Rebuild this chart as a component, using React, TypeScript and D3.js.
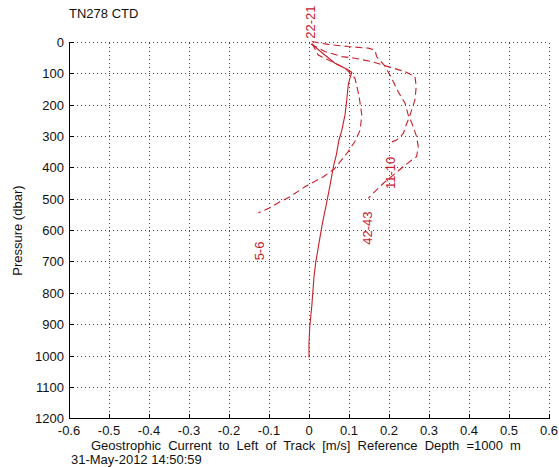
import React from "react";
import * as d3 from "d3";

const xTicks = [-0.6, -0.5, -0.4, -0.3, -0.2, -0.1, 0, 0.1, 0.2, 0.3, 0.4, 0.5, 0.6];
const xTickLabels = ["-0.6", "-0.5", "-0.4", "-0.3", "-0.2", "-0.1", "0", "0.1", "0.2", "0.3", "0.4", "0.5", "0.6"];
const yTicks = [0, 100, 200, 300, 400, 500, 600, 700, 800, 900, 1000, 1100, 1200];

// Solid profile (22-21): [velocity m/s, pressure dbar]
const series2221: [number, number][] = [
  [0.007, 5], [0.035, 35], [0.065, 66], [0.095, 85], [0.107, 95], [0.102, 115], [0.098, 136],
  [0.094, 189], [0.09, 231], [0.082, 280], [0.075, 311], [0.068, 360], [0.061, 396], [0.052, 460],
  [0.042, 524], [0.033, 580], [0.025, 640], [0.017, 700], [0.0125, 747], [0.01, 790], [0.007, 840],
  [0.002, 906], [0.0, 960], [0.0, 1005],
];
// Dashed profile 5-6
const series56: [number, number][] = [
  [0.008, 3], [0.023, 40], [0.057, 61], [0.09, 82], [0.115, 114], [0.125, 170], [0.132, 231],
  [0.128, 279], [0.115, 315], [0.098, 348], [0.063, 404], [0.036, 428], [-0.01, 460],
  [-0.0475, 492], [-0.0725, 508], [-0.1, 529], [-0.127, 543],
];
// Dashed profile 11-10
const series1110: [number, number][] = [
  [0.005, 5], [0.04, 29], [0.082, 45], [0.115, 50], [0.157, 61], [0.198, 77], [0.24, 93],
  [0.265, 109], [0.268, 140], [0.265, 183], [0.251, 237], [0.244, 259], [0.236, 290],
  [0.219, 311], [0.198, 322],
];
// Dashed profile 42-43
const series4243: [number, number][] = [
  [0.007, -3], [0.048, 6], [0.098, 13], [0.148, 18], [0.165, 24], [0.169, 45], [0.19, 75],
  [0.211, 125], [0.223, 157], [0.24, 194], [0.248, 231], [0.257, 257], [0.269, 300],
  [0.273, 332], [0.269, 364], [0.257, 375], [0.236, 396], [0.186, 449], [0.169, 470],
  [0.148, 497],
];

const labelNames = ["22-21", "11-10", "42-43", "5-6"];
const labelPos: [number, number][] = [[0.0025, -65], [0.2025, 416], [0.146, 592], [-0.124, 665]];

const W = 559;
const H = 467;
const RED = "#c8202a";
const FONT = "Arial, 'Liberation Sans', Helvetica, sans-serif";

export default function App() {
  const x = d3.scaleLinear().domain([-0.6, 0.6]).range([69, 549]);
  const y = d3.scaleLinear().domain([0, 1200]).range([42.5, 418.7]);
  const line = d3
    .line<[number, number]>()
    .x((d) => x(d[0]))
    .y((d) => y(d[1]));

  const x0 = x.range()[0];
  const x1 = x.range()[1];
  const y0 = y.range()[0];
  const y1 = y.range()[1];

  return (
    <svg
      width={W}
      height={H}
      style={{ position: "absolute", left: 0, top: 0, background: "#fff" }}
      fontFamily={FONT}
    >
      <rect x={0} y={0} width={W} height={H} fill="#fff" />
      {/* grid */}
      {xTicks.map((t, i) => (
        <line key={"gx" + i} x1={x(t)} x2={x(t)} y1={y0} y2={y1} stroke="#444" strokeWidth={1}
          strokeDasharray="1 3" shapeRendering="crispEdges" />
      ))}
      {yTicks.map((t, i) => (
        <line key={"gy" + i} x1={x0} x2={x1} y1={y(t)} y2={y(t)} stroke="#444" strokeWidth={1}
          strokeDasharray="1 3" shapeRendering="crispEdges" />
      ))}
      {/* axes */}
      <line x1={x0} x2={x0} y1={y0} y2={y1} stroke="#000" shapeRendering="crispEdges" />
      <line x1={x0} x2={x1} y1={y1} y2={y1} stroke="#000" shapeRendering="crispEdges" />
      {xTicks.map((t, i) => (
        <line key={"tx" + i} x1={x(t)} x2={x(t)} y1={y1} y2={y1 - 5} stroke="#000" shapeRendering="crispEdges" />
      ))}
      {yTicks.map((t, i) => (
        <line key={"ty" + i} x1={x0} x2={x0 + 5} y1={y(t)} y2={y(t)} stroke="#000" shapeRendering="crispEdges" />
      ))}
      {/* tick labels */}
      {xTicks.map((t, i) => (
        <text key={"lx" + i} x={x(t)} y={435} textAnchor="middle" fontSize={13} fill="#111">
          {xTickLabels[i]}
        </text>
      ))}
      {yTicks.map((t, i) => (
        <text key={"ly" + i} x={64} y={y(t) + 4.5} textAnchor="end" fontSize={13} fill="#111">
          {String(t)}
        </text>
      ))}
      {/* data */}
      <path d={line(series2221) || ""} fill="none" stroke={RED} strokeWidth={1.1} />
      <path d={line(series56) || ""} fill="none" stroke={RED} strokeWidth={1.1} strokeDasharray="7 4" />
      <path d={line(series1110) || ""} fill="none" stroke={RED} strokeWidth={1.1} strokeDasharray="7 4" />
      <path d={line(series4243) || ""} fill="none" stroke={RED} strokeWidth={1.1} strokeDasharray="7 4" />
      {labelNames.map((n, i) => (
        <text key={"cl" + i} transform={`translate(${x(labelPos[i][0]) + 4.5},${y(labelPos[i][1])}) rotate(-90)`}
          textAnchor="middle" fontSize={13} fill={RED}>
          {n}
        </text>
      ))}
      {/* titles */}
      <text x={69} y={18} fontSize={13} fill="#111">TN278 CTD</text>
      <text transform={`translate(22,${(y0 + y1) / 2}) rotate(-90)`} textAnchor="middle" fontSize={13} fill="#111">
        Pressure (dbar)
      </text>
      <text x={91} y={450} fontSize={13} wordSpacing={3.5} fill="#111">
        Geostrophic Current to Left of Track [m/s] Reference Depth =1000 m
      </text>
      <text x={71} y={463.5} fontSize={13} fill="#111">31-May-2012 14:50:59</text>
    </svg>
  );
}
